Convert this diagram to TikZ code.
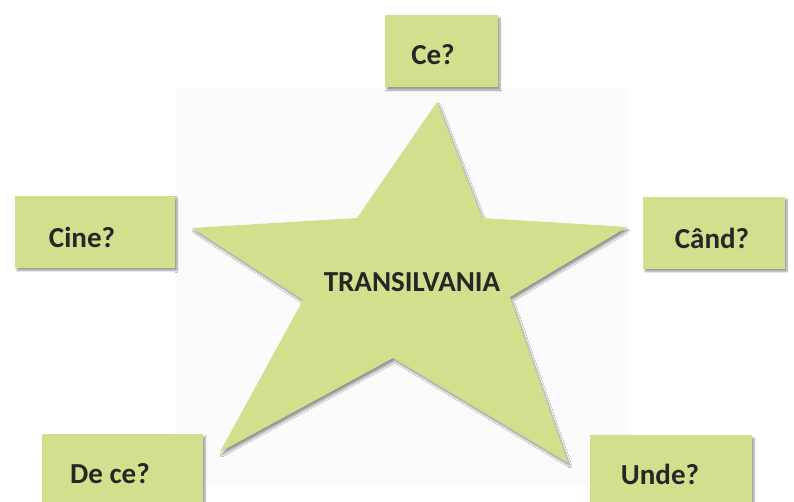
\documentclass[tikz,border=0pt]{standalone}
\usepackage{fontspec}
\setmainfont{Carlito}
\usetikzlibrary{shadows.blur}
\definecolor{leaf}{RGB}{210,223,140}
\begin{document}
\begin{tikzpicture}[x=1pt,y=-1pt,
	qbox/.style={fill=leaf,minimum width=160pt,minimum height=72pt,blur shadow={shadow xshift=2pt,shadow yshift=-3pt,shadow blur steps=6}},
	qtext/.style={font=\fontsize{29}{34}\selectfont\bfseries,text=black!85}]
	\useasboundingbox (0,0) rectangle (794,501);
	\fill[black!1.5] (175,88) rectangle (628,486);
	% star
	\fill[leaf,blur shadow={shadow xshift=2pt,shadow yshift=-3pt,shadow blur steps=6}] (437,102) -- (482,218) -- (627,227) -- (510,297) -- (568,463) -- (393,358) -- (220,452) -- (303,300) -- (192,228) -- (357,218) -- cycle;
	\node[qtext] (star) at (412,282) {TRANSILVANIA};
	% question boxes
	\node[qbox,minimum width=113pt] (ce) at (441.5,51) {};
	\node[qtext] (cet) at (433,55) {Ce?};
	\node[qbox] (cine) at (95,231.5) {};
	\node[qtext] (cinet) at (82,237) {Cine?};
	\node[qbox,minimum width=142pt] (cand) at (714,232.5) {};
	\node[qtext] (candt) at (712,238) {Când?};
	\node[qbox,minimum width=161pt] (dece) at (122.5,470) {};
	\node[qtext] (decet) at (110,474) {De ce?};
	\node[qbox,minimum width=162pt] (unde) at (671,471) {};
	\node[qtext] (undet) at (660,474) {Unde?};
\end{tikzpicture}
\end{document}
